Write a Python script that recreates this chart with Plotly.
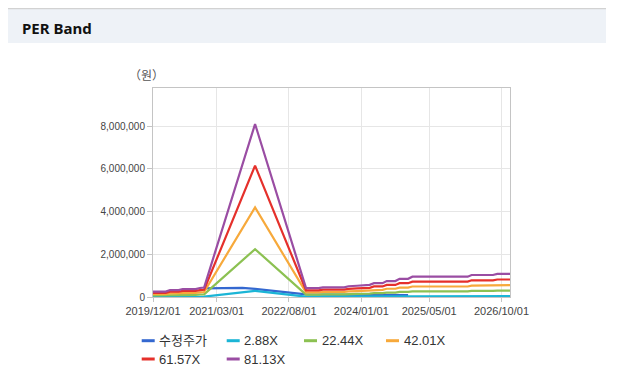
import plotly.graph_objects as go

# ---------------- data ----------------
band_dates = ["2019-12-01", "2020-03-01", "2020-04-01", "2020-06-01", "2020-07-01", "2020-10-01",
              "2020-11-01", "2020-12-01", "2021-12-01", "2022-12-01", "2023-03-01", "2023-04-01",
              "2023-09-01", "2023-10-01", "2023-12-01", "2024-03-01", "2024-04-01", "2024-06-01",
              "2024-07-01", "2024-09-01", "2024-10-01", "2024-12-01", "2025-01-01", "2026-02-01",
              "2026-03-01", "2026-08-01", "2026-09-01", "2026-12-01"]

band_2_88 = [9000, 9000, 12000, 12000, 13000, 13000, 15000, 16000, 287000, 15000, 15000, 16000,
             16000, 18000, 19000, 20000, 23000, 23000, 26000, 26000, 30000, 30000, 34000, 34000,
             37000, 37000, 38000, 38000]
band_22_44 = [70000, 70000, 90000, 90000, 103000, 103000, 117000, 123000, 2240000, 114000, 114000, 126000,
              126000, 139000, 146000, 157000, 180000, 180000, 206000, 206000, 236000, 236000, 263000, 263000,
              285000, 285000, 298000, 298000]
band_42_01 = [130000, 130000, 168000, 168000, 193000, 193000, 218000, 231000, 4193000, 214000, 214000, 235000,
              235000, 260000, 273000, 294000, 336000, 336000, 386000, 386000, 441000, 441000, 492000, 492000,
              534000, 534000, 559000, 559000]
band_61_57 = [191000, 191000, 246000, 246000, 283000, 283000, 320000, 339000, 6145000, 314000, 314000, 345000,
              345000, 382000, 400000, 431000, 493000, 493000, 566000, 566000, 646000, 646000, 720000, 720000,
              782000, 782000, 819000, 819000]
band_81_13 = [252000, 252000, 325000, 325000, 373000, 373000, 422000, 446000, 8097000, 414000, 414000, 454000,
              454000, 503000, 527000, 568000, 649000, 649000, 746000, 746000, 852000, 852000, 949000, 949000,
              1030000, 1030000, 1079000, 1079000]

price_dates = ["2020-12-01", "2021-03-01", "2021-06-01", "2021-09-01", "2021-12-01", "2022-03-01",
               "2022-06-01", "2022-09-01", "2022-12-01", "2023-06-01", "2023-12-01", "2024-06-01",
               "2024-12-01"]
price = [400000, 420000, 440000, 430000, 380000, 320000, 260000, 190000, 120000, 110000, 100000,
         95000, 90000]

series_names = ["수정주가", "2.88X", "22.44X", "42.01X", "61.57X", "81.13X"]
series_colors = ["#3468d0", "#1bb5d6", "#8cc152", "#f7a93b", "#e5302b", "#9a4da3"]

x_tick_vals = ["2019-12-01", "2021-03-01", "2022-08-01", "2024-01-01", "2025-05-01", "2026-10-01"]
x_tick_text = ["2019/12/01", "2021/03/01", "2022/08/01", "2024/01/01", "2025/05/01", "2026/10/01"]
y_tick_vals = [0, 2000000, 4000000, 6000000, 8000000]
y_tick_text = ["0", "2,000,000", "4,000,000", "6,000,000", "8,000,000"]

# ---------------- layout constants ----------------
OFF = 8                      # page body margin
W, H = 617 - 2 * OFF, 391 - 2 * OFF
PL, PR, PT, PB = 153, 510, 88, 297   # plot area in page pixels


def px(x):
    return (x - PL) / (PR - PL)


def py(y):
    return (PB - y) / (PB - PT)


fig = go.Figure()

series_y = [price, band_2_88, band_22_44, band_42_01, band_61_57, band_81_13]
series_x = [price_dates] + [band_dates] * 5
for name, xs, ys, col in zip(series_names, series_x, series_y, series_colors):
    fig.add_trace(go.Scatter(x=xs, y=ys, mode="lines", name=name,
                             line=dict(color=col, width=2.2), showlegend=False,
                             hoverinfo="skip"))

shapes = []
annotations = []

# header band
shapes.append(dict(type="rect", xref="paper", yref="paper", x0=px(8), x1=px(606), y0=py(43), y1=py(9),
                   fillcolor="#eef2f7", line=dict(width=0), layer="below"))
shapes.append(dict(type="line", xref="paper", yref="paper", x0=px(8), x1=px(606), y0=py(8.5), y1=py(8.5),
                   line=dict(color="#d2d2d2", width=1.5), layer="below"))
annotations.append(dict(text="<b>PER Band</b>", xref="paper", yref="paper", x=px(20), y=py(27.5),
                        xanchor="left", yanchor="middle", showarrow=False,
                        font=dict(family="Noto Sans", size=15, color="#111111")))

# unit label
annotations.append(dict(text="（원）", xref="paper", yref="paper", x=px(146), y=py(74),
                        xanchor="center", yanchor="middle", showarrow=False,
                        font=dict(family="Noto Sans CJK KR", size=12, color="#555555")))

# legend (manual, short dashes)
leg_pos = [(141.7, 340.7), (226.7, 340.7), (304, 340.7), (386, 340.7), (141.7, 359), (226.7, 359)]
for name, col, (lx, ly) in zip(series_names, series_colors, leg_pos):
    shapes.append(dict(type="line", xref="paper", yref="paper", x0=px(lx), x1=px(lx + 13),
                       y0=py(ly), y1=py(ly), line=dict(color=col, width=3)))
    annotations.append(dict(text=name, xref="paper", yref="paper", x=px(lx + 15.5), y=py(ly),
                            xanchor="left", yanchor="middle", showarrow=False,
                            font=dict(family="Liberation Sans, Noto Sans CJK KR", size=13, color="#333333")))

fig.update_layout(
    width=W, height=H,
    margin=dict(l=PL - OFF, r=W - (PR - OFF), t=PT - OFF, b=H - (PB - OFF), pad=0),
    paper_bgcolor="white", plot_bgcolor="white",
    shapes=shapes, annotations=annotations,
    xaxis=dict(type="date", range=["2019-12-01", "2026-12-01"],
               tickvals=x_tick_vals, ticktext=x_tick_text,
               showgrid=True, gridcolor="#e6e6e6", gridwidth=1,
               showline=True, linecolor="#c4c4c4", linewidth=1, mirror=True,
               ticks="outside", ticklen=4, tickcolor="#c4c4c4",
               tickfont=dict(family="Liberation Sans", size=11, color="#444444"),
               zeroline=False, fixedrange=True),
    yaxis=dict(range=[0, 9780000], tickvals=y_tick_vals, ticktext=y_tick_text,
               showgrid=True, gridcolor="#e6e6e6", gridwidth=1,
               showline=True, linecolor="#c4c4c4", linewidth=1, mirror=True,
               ticks="outside", ticklen=5, tickcolor="#c4c4c4",
               tickfont=dict(family="Liberation Sans", size=10, color="#444444"),
               zeroline=False, fixedrange=True),
)

fig.write_html("out.html", config={"displayModeBar": False})
